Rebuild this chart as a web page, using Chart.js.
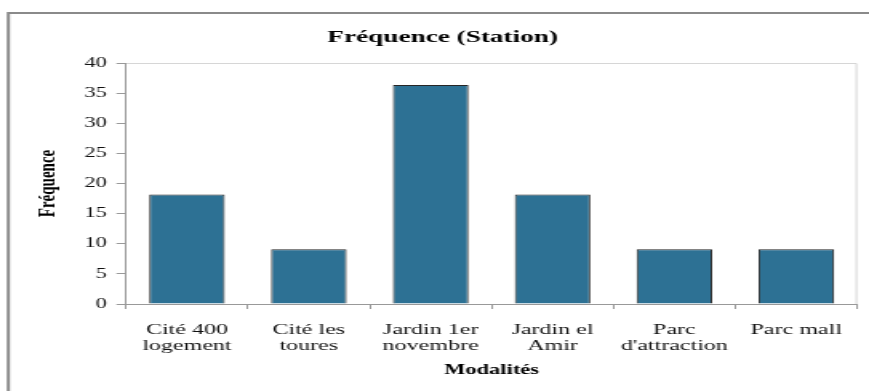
<!DOCTYPE html>
<html>
<head>
<meta charset="utf-8">
<title>Fréquence (Station)</title>
<script src="https://cdn.jsdelivr.net/npm/chart.js@4.4.1/dist/chart.umd.min.js"></script>
<style>
  html, body { margin: 0; padding: 0; background: #fff; overflow: hidden; }
  /* The drawing surface is narrower than its display box and stretched sideways,
     giving the wide-set look of the lettering */
  #wrap { width: 543px; height: 391px; transform: scaleX(1.6004); transform-origin: 0 0; }
  #chart { display: block; }
</style>
</head>
<body>
<div id="wrap"><canvas id="chart" width="543" height="391"></canvas></div>
<script>
// Stations (multi-line axis labels)
const categories = [
  ['Cité 400', 'logement'],
  ['Cité les', 'toures'],
  ['Jardin 1er', 'novembre'],
  ['Jardin el', 'Amir'],
  ['Parc', "d'attraction"],
  ['Parc mall']
];
// Relative frequency (%) per station
const frequencies = [18.18, 9.09, 36.36, 18.18, 9.09, 9.09];
// Value axis ticks
const yTicks = [0, 5, 10, 15, 20, 25, 30, 35, 40];

const SERIF = '"Liberation Serif", "Times New Roman", serif';

// Outer frame plus the light top/right edges of the plot area
const framePlugin = {
  id: 'frame',
  beforeDraw(chart) {
    const { ctx, chartArea: a } = chart;
    ctx.save();
    ctx.fillStyle = '#ffffff';
    ctx.fillRect(0, 0, chart.width, chart.height);
    ctx.strokeStyle = '#8a8a8a';
    ctx.lineWidth = 2;
    ctx.beginPath();
    ctx.moveTo(5.2, chart.height);
    ctx.lineTo(5.2, 13);
    ctx.lineTo(chart.width, 13);
    ctx.stroke();
    ctx.strokeStyle = '#d6d6d6';
    ctx.lineWidth = 1;
    ctx.beginPath();
    ctx.moveTo(a.left, a.top + 0.5);
    ctx.lineTo(a.right - 0.5, a.top + 0.5);
    ctx.lineTo(a.right - 0.5, a.bottom);
    ctx.stroke();
    ctx.restore();
  }
};

new Chart(document.getElementById('chart'), {
  type: 'bar',
  data: {
    labels: categories,
    datasets: [{
      label: 'Fréquence',
      data: frequencies,
      backgroundColor: '#2D7194',
      borderColor: '#262626',
      borderWidth: 1,
      categoryPercentage: 1.0,
      barPercentage: 0.62
    }]
  },
  options: {
    responsive: false,
    devicePixelRatio: 1,
    animation: false,
    layout: { padding: { left: 17.5, right: 7.4, top: 0, bottom: 0 } },
    plugins: {
      legend: { display: false },
      tooltip: { enabled: false },
      title: {
        display: true,
        text: 'Fréquence (Station)',
        color: '#000',
        font: { family: SERIF, size: 17, weight: 'bold', lineHeight: 1.2 },
        padding: { top: 27, bottom: 15.6 }
      }
    },
    scales: {
      x: {
        offset: true,
        afterFit(scale) { scale.height = 87; },
        grid: {
          offset: true,
          drawOnChartArea: false,
          drawTicks: true,
          tickLength: 5,
          tickColor: '#999'
        },
        border: { display: true, color: '#999', width: 1 },
        ticks: {
          color: '#111',
          padding: 13,
          maxRotation: 0,
          autoSkip: false,
          font: { family: SERIF, size: 15, lineHeight: 1.05 }
        },
        title: {
          display: true,
          text: 'Modalités',
          color: '#000',
          font: { family: SERIF, size: 14, weight: 'bold', lineHeight: 1.2 },
          padding: { top: 0, bottom: 12 }
        }
      },
      y: {
        min: 0,
        max: 40,
        afterFit(scale) { scale.width = 61.25; },
        afterBuildTicks(scale) { scale.ticks = yTicks.map(v => ({ value: v })); },
        grid: {
          drawOnChartArea: false,
          drawTicks: true,
          tickLength: 6,
          tickColor: '#999'
        },
        border: { display: true, color: '#999', width: 1 },
        ticks: {
          color: '#111',
          padding: 6,
          font: { family: SERIF, size: 14 }
        },
        title: {
          display: true,
          text: 'Fréquence',
          color: '#000',
          font: { family: SERIF, size: 15, weight: 'bold', lineHeight: 1.2 },
          padding: { top: 3.5, bottom: 0 }
        }
      }
    }
  },
  plugins: [framePlugin]
});
</script>
</body>
</html>
